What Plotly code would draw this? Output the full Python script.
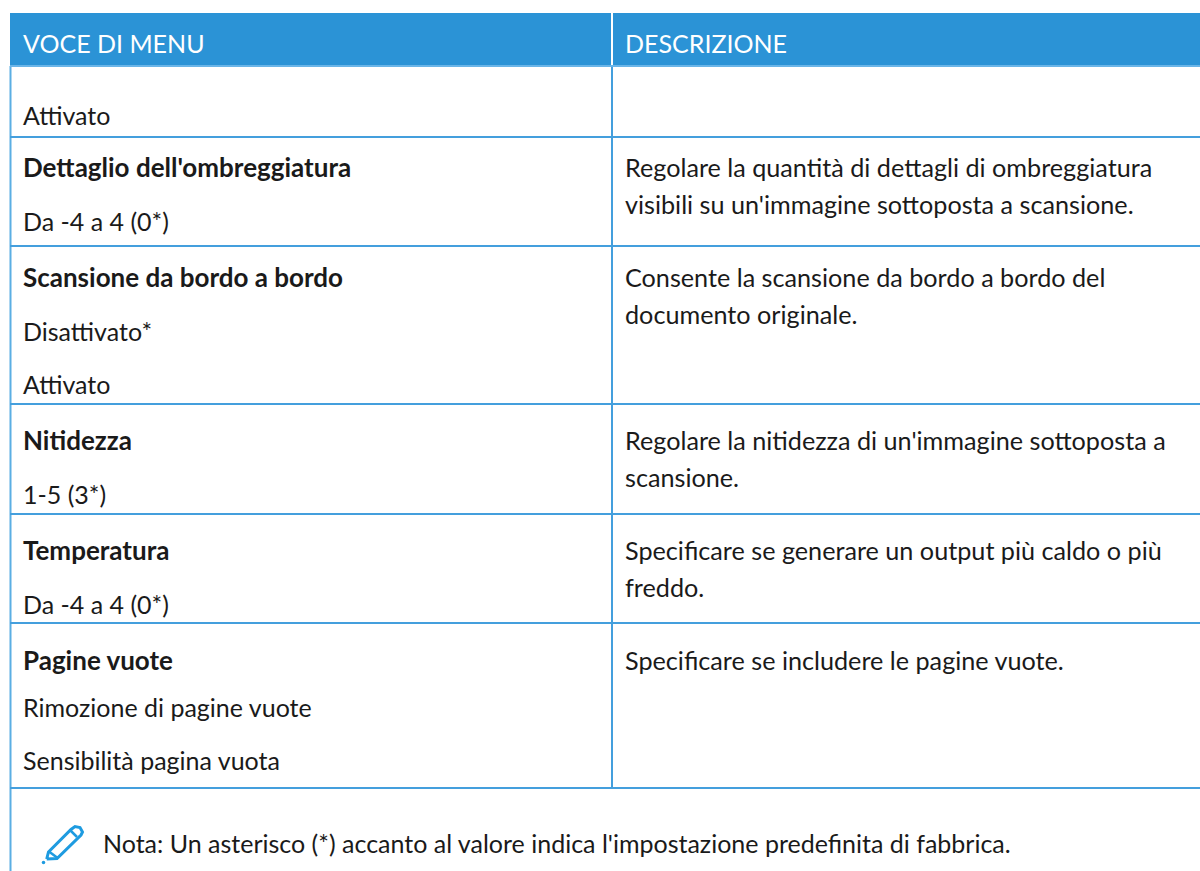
import plotly.graph_objects as go

W, H = 1200, 871
BLUE = "#2b93d6"
LINE = "#449fdd"
TEXT = "#1a1a1a"
FONT = "Lato"

headers = ["VOCE DI MENU", "DESCRIZIONE"]
row_lines = [66, 137, 246, 404, 514, 623, 788]
left_items = [
    ("Attivato", 115, False),
    ("Dettaglio dell'ombreggiatura", 167, True),
    ("Da -4 a 4 (0*)", 221, False),
    ("Scansione da bordo a bordo", 277, True),
    ("Disattivato*", 331, False),
    ("Attivato", 384, False),
    ("Nitidezza", 440, True),
    ("1-5 (3*)", 494, False),
    ("Temperatura", 550, True),
    ("Da -4 a 4 (0*)", 604, False),
    ("Pagine vuote", 660, True),
    ("Rimozione di pagine vuote", 707, False),
    ("Sensibilità pagina vuota", 760, False),
]
right_items = [
    ("Regolare la quantità di dettagli di ombreggiatura", 167),
    ("visibili su un'immagine sottoposta a scansione.", 204),
    ("Consente la scansione da bordo a bordo del", 277),
    ("documento originale.", 314),
    ("Regolare la nitidezza di un'immagine sottoposta a", 440),
    ("scansione.", 477),
    ("Specificare se generare un output più caldo o più", 550),
    ("freddo.", 587),
    ("Specificare se includere le pagine vuote.", 660),
]
note = "Nota: Un asterisco (*) accanto al valore indica l'impostazione predefinita di fabbrica."
pencil_x = [46.7, 48.5, 71, 75, 80, 82.5, 81, 57, 46.7]
pencil_y = [859, 852, 829.5, 826.5, 827.5, 832, 835, 858.5, 859]

fig = go.Figure()
shapes = [dict(type="rect", x0=10, x1=W, y0=13, y1=66, fillcolor=BLUE, line_width=0, layer="below"),
          dict(type="line", x0=612, x1=612, y0=13, y1=66, line=dict(color="white", width=2)),
          dict(type="line", x0=612, x1=612, y0=66, y1=788, line=dict(color=LINE, width=2)),
          dict(type="line", x0=10.5, x1=10.5, y0=66, y1=H, line=dict(color="#5aaee3", width=2))]
for y in row_lines:
    shapes.append(dict(type="line", x0=10, x1=W, y0=y, y1=y,
                       line=dict(color="#6ab5e8" if y == row_lines[0] else LINE, width=2)))

anns = []
def t(x, y, s, size=25, color=TEXT, bold=False):
    anns.append(dict(x=x, y=y, text=f"<b>{s}</b>" if bold else s, showarrow=False, xanchor="left",
                     yanchor="middle", font=dict(family=FONT, size=size, color=color)))
t(21, 43, headers[0], 25, "white")
t(623, 43, headers[1], 25, "white")
for s, y, b in left_items:
    t(21, y, s, size=26 if b else 25, bold=b)
for s, y in right_items:
    t(623, y, s, size=25.2)
t(101, 843, note, 25)

ICON = "#1e9be0"
fig.add_trace(go.Scatter(x=pencil_x, y=pencil_y, mode="lines", line=dict(color=ICON, width=3),
                         hoverinfo="skip", showlegend=False))
fig.add_trace(go.Scatter(x=[49.3, 57.3, None, 70, 77], y=[851.7, 857.7, None, 830, 837], mode="lines",
                         line=dict(color=ICON, width=2.5), hoverinfo="skip", showlegend=False))
fig.add_trace(go.Scatter(x=[43.5], y=[862.5], mode="markers", marker=dict(color=ICON, size=3.5),
                         hoverinfo="skip", showlegend=False))
fig.update_layout(width=W, height=H, margin=dict(l=0, r=0, t=0, b=0), paper_bgcolor="white", plot_bgcolor="white",
                  shapes=shapes, annotations=anns, showlegend=False,
                  xaxis=dict(range=[0, W], visible=False, fixedrange=True),
                  yaxis=dict(range=[H, 0], visible=False, fixedrange=True))
fig.write_html("out.html", post_script="document.body.style.margin='0';document.body.style.overflow='hidden';",
               config=dict(displayModeBar=False))
